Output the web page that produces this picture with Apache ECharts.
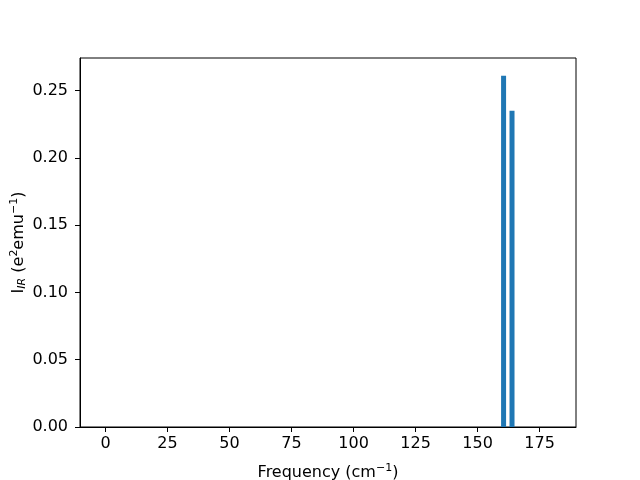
<!DOCTYPE html>
<html><head><meta charset="utf-8">
<script src="https://cdn.jsdelivr.net/npm/echarts@6/dist/echarts.min.js"></script>
<style>html,body{margin:0;padding:0;background:#fff}#c{width:640px;height:480px}</style>
</head><body><div id="c"></div>
<script>
const frequencies = [160.5, 163.9];
const intensities = [0.261, 0.235];
const xTicks = [0, 25, 50, 75, 100, 125, 150, 175];
const yTicks = [0, 0.05, 0.10, 0.15, 0.20, 0.25];

const chart = echarts.init(document.getElementById('c'), null, {renderer: 'canvas'});
const font = 'DejaVu Sans';
const base = {fontFamily: font, fontSize: 16, color: '#000'};
chart.setOption({
  animation: false,
  grid: {left: 80, right: 64, top: 58, bottom: 53, show: true, borderColor: '#000', borderWidth: 1,
    backgroundColor: 'transparent', containLabel: false, outerBoundsMode: 'none'},
  xAxis: {
    type: 'value', min: -10.3, max: 189.7,
    name: '{n|Frequency (cm}{p|−1}{n|)}', nameLocation: 'middle', nameGap: 36, nameMoveOverlap: false,
    nameTextStyle: Object.assign({}, base, {rich: {
      n: base,
      p: {fontFamily: font, fontSize: 11, color: '#000', padding: [0, 0, 8, 0]}
    }}),
    axisLine: {show: true, onZero: false, lineStyle: {color: '#000', width: 1}},
    axisTick: {show: true, inside: false, length: 5, customValues: xTicks, lineStyle: {color: '#000'}},
    axisLabel: {customValues: xTicks, fontFamily: font, fontSize: 16, color: '#000', margin: 9},
    splitLine: {show: false}
  },
  yAxis: {
    type: 'value', min: 0, max: 0.2742,
    name: '{i|I}{s|IR}{n| (e}{p|2}{n|emu}{p|−1}{n|)}', nameLocation: 'middle', nameGap: 52, nameRotate: 90, nameMoveOverlap: false,
    nameTextStyle: Object.assign({}, base, {rich: {
      i: base,
      n: base,
      s: {fontFamily: font, fontSize: 11, fontStyle: 'italic', color: '#000', padding: [7, 0, 0, 0]},
      p: {fontFamily: font, fontSize: 11, color: '#000', padding: [0, 0, 8, 0]}
    }}),
    axisLine: {show: true, onZero: false, lineStyle: {color: '#000', width: 1}},
    axisTick: {show: true, inside: false, length: 5, customValues: yTicks, lineStyle: {color: '#000'}},
    axisLabel: {customValues: yTicks, fontFamily: font, fontSize: 16, color: '#000', margin: 12,
      formatter: v => v.toFixed(2)},
    splitLine: {show: false}
  },
  series: [{
    type: 'bar',
    data: frequencies.map((f, i) => [f, intensities[i]]),
    barWidth: 5,
    itemStyle: {color: '#1f77b4'}
  }]
});
</script></body></html>
